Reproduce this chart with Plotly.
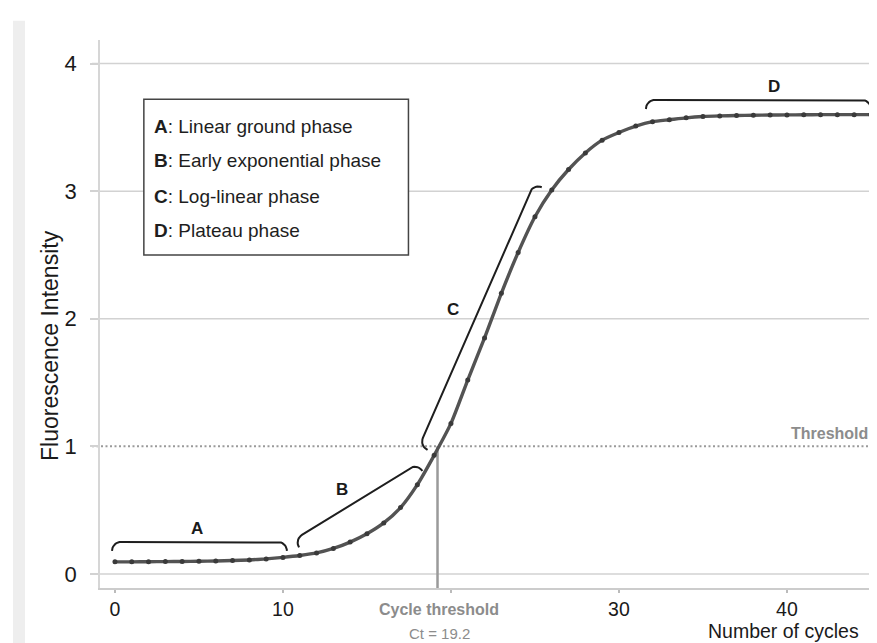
import numpy as np
import plotly.graph_objects as go

# ---------------- data ----------------
CYCLES = list(range(0, 46))
FLUOR = [0.095, 0.095, 0.096, 0.097, 0.098, 0.100, 0.102, 0.105, 0.110, 0.118,
         0.130, 0.145, 0.165, 0.200, 0.250, 0.315, 0.400, 0.520, 0.700, 0.930,
         1.180, 1.520, 1.850, 2.200, 2.520, 2.800, 3.010, 3.170, 3.300, 3.400,
         3.460, 3.510, 3.545, 3.560, 3.575, 3.585, 3.590, 3.593, 3.595, 3.597,
         3.598, 3.599, 3.600, 3.600, 3.600, 3.600]

THRESHOLD = 1.0
CT = 19.2

X_TICKS = [0, 10, 20, 30, 40]
X_TICKTEXT = ["0", "10", "", "30", "40"]
Y_TICKS = [0, 1, 2, 3, 4]
GRID_Y = [0, 2, 3, 4]

# phase braces (straight part start/end, data units)
BRACE_NAMES = ["A", "B", "C", "D"]
BRACE_X0 = [0.36, 11.13, 18.33, 32.14]
BRACE_Y0 = [0.251, 0.306, 1.066, 3.715]
BRACE_X1 = [9.70, 17.56, 24.70, 44.46]
BRACE_Y1 = [0.251, 0.830, 2.994, 3.715]
LABEL_X = [4.87, 13.5, 20.15, 39.2]
LABEL_Y = [0.36, 0.66, 2.07, 3.82]

LEGEND_KEYS = ["A", "B", "C", "D"]
LEGEND_TEXT = ["Linear ground phase", "Early exponential phase",
               "Log-linear phase", "Plateau phase"]

X_RANGE = [-0.89, 45.36]
Y_RANGE = [-0.11, 4.185]

FONT = "Liberation Sans, Arial, sans-serif"

# approximate pixel scale used only to shape brace hooks
SX = 777 / (X_RANGE[1] - X_RANGE[0])
SY = 548 / (Y_RANGE[1] - Y_RANGE[0])


def brace_path(x0, y0, x1, y1, r=9.0, n_arc=10):
    P0 = np.array([x0 * SX, -y0 * SY])
    P1 = np.array([x1 * SX, -y1 * SY])
    d = P1 - P0
    d = d / np.linalg.norm(d)
    n = np.array([-d[1], d[0]])
    pts = []
    C0 = P0 + n * r
    for t in np.linspace(np.pi / 2, 0, n_arc):
        pts.append(C0 + r * (-n * np.cos(t) - d * np.sin(t)))
    C1 = P1 + n * r
    for t in np.linspace(0, np.pi / 2, n_arc):
        pts.append(C1 + r * (-n * np.cos(t) + d * np.sin(t)))
    pts = np.array(pts)
    return pts[:, 0] / SX, -pts[:, 1] / SY


fig = go.Figure()

# braces
for i, name in enumerate(BRACE_NAMES):
    bx, by = brace_path(BRACE_X0[i], BRACE_Y0[i], BRACE_X1[i], BRACE_Y1[i])
    fig.add_trace(go.Scatter(x=bx, y=by, mode="lines",
                             line=dict(color="#1e1e1e", width=2),
                             hoverinfo="skip", showlegend=False))
    fig.add_annotation(x=LABEL_X[i], y=LABEL_Y[i], text="<b>%s</b>" % name,
                       xanchor="center", yanchor="middle",
                       showarrow=False, font=dict(family=FONT, size=17, color="#1a1a1a"))

# amplification curve
fig.add_trace(go.Scatter(x=CYCLES, y=FLUOR, mode="lines+markers",
                         line=dict(color="#535353", width=3.4, shape="spline", smoothing=0.6),
                         marker=dict(color="#3a3a3a", size=5),
                         hoverinfo="skip", showlegend=False))

shapes = []
# left grey strip
shapes.append(dict(type="rect", xref="paper", yref="paper",
                   x0=-0.112, x1=-0.0965, y0=-0.12, y1=1.035,
                   fillcolor="#eeeeee", line=dict(width=0), layer="below"))
# gridlines
for gy in GRID_Y:
    shapes.append(dict(type="line", xref="paper", yref="y", x0=-0.0103, x1=1,
                       y0=gy, y1=gy, line=dict(color="#d2d2d2", width=1.5), layer="below"))
# threshold dotted line
shapes.append(dict(type="line", xref="paper", yref="y", x0=-0.0103, x1=1,
                   y0=THRESHOLD, y1=THRESHOLD,
                   line=dict(color="#9a9a9a", width=2, dash="2px,2.5px"), layer="below"))
# Ct vertical line
shapes.append(dict(type="line", xref="x", yref="y", x0=CT, x1=CT,
                   y0=Y_RANGE[0], y1=THRESHOLD,
                   line=dict(color="#9a9a9a", width=2.5), layer="below"))
# legend box
shapes.append(dict(type="rect", xref="x", yref="y", x0=1.72, x1=17.47, y0=2.50, y1=3.72,
                   line=dict(color="#444444", width=1.5), fillcolor="white", layer="below"))
fig.update_layout(shapes=shapes)

legend_y = [3.51, 3.24, 2.96, 2.69]
for k, txt, ly in zip(LEGEND_KEYS, LEGEND_TEXT, legend_y):
    fig.add_annotation(x=2.2, y=ly, xanchor="left", yanchor="middle",
                       text="<b>%s</b>: %s" % (k, txt),
                       showarrow=False, font=dict(family=FONT, size=19, color="#1e1e1e"))

# threshold label
fig.add_annotation(x=44.95, y=1.10, xanchor="right", yanchor="middle", text="<b>Threshold</b>",
                   showarrow=False, font=dict(family=FONT, size=16, color="#8c8c8c"))
# Ct labels
fig.add_annotation(x=CT + 0.1, y=-0.0401, yref="paper", xanchor="center", yanchor="middle",
                   text="<b>Cycle threshold</b>",
                   showarrow=False, font=dict(family=FONT, size=16, color="#8c8c8c"))
fig.add_annotation(x=CT + 0.1, y=-0.0839, yref="paper", xanchor="center", yanchor="middle",
                   text="Ct = %.1f" % CT,
                   showarrow=False, font=dict(family=FONT, size=15, color="#8c8c8c"))
# axis titles
fig.add_annotation(x=39.8, y=-0.0785, yref="paper", xanchor="center", yanchor="middle",
                   text="Number of cycles",
                   showarrow=False, font=dict(family=FONT, size=19.5, color="#1a1a1a"))
fig.add_annotation(x=-0.0644, xref="paper", y=0.4434, yref="paper", textangle=-90,
                   xanchor="center", yanchor="middle",
                   text="Fluorescence Intensity", showarrow=False,
                   font=dict(family=FONT, size=23, color="#1a1a1a"))

fig.update_layout(
    width=869, height=635,
    margin=dict(l=92, r=0, t=32, b=55),
    paper_bgcolor="white", plot_bgcolor="white",
    font=dict(family=FONT),
    xaxis=dict(range=X_RANGE, tickvals=X_TICKS, ticktext=X_TICKTEXT,
               showgrid=False, zeroline=False, showline=True, linecolor="#cccccc", linewidth=2,
               ticks="outside", ticklen=3, tickcolor="#bbbbbb", tickwidth=1.5,
               tickfont=dict(family=FONT, size=19.5, color="#1a1a1a")),
    yaxis=dict(range=Y_RANGE, tickvals=Y_TICKS,
               showgrid=False, zeroline=False, showline=True, linecolor="#d6d6d6", linewidth=1.5,
               ticks="outside", ticklen=8, tickcolor="#d2d2d2", tickwidth=1.5,
               ticklabelstandoff=9,
               tickfont=dict(family=FONT, size=22, color="#1a1a1a")),
)

fig.write_html("out.html")
